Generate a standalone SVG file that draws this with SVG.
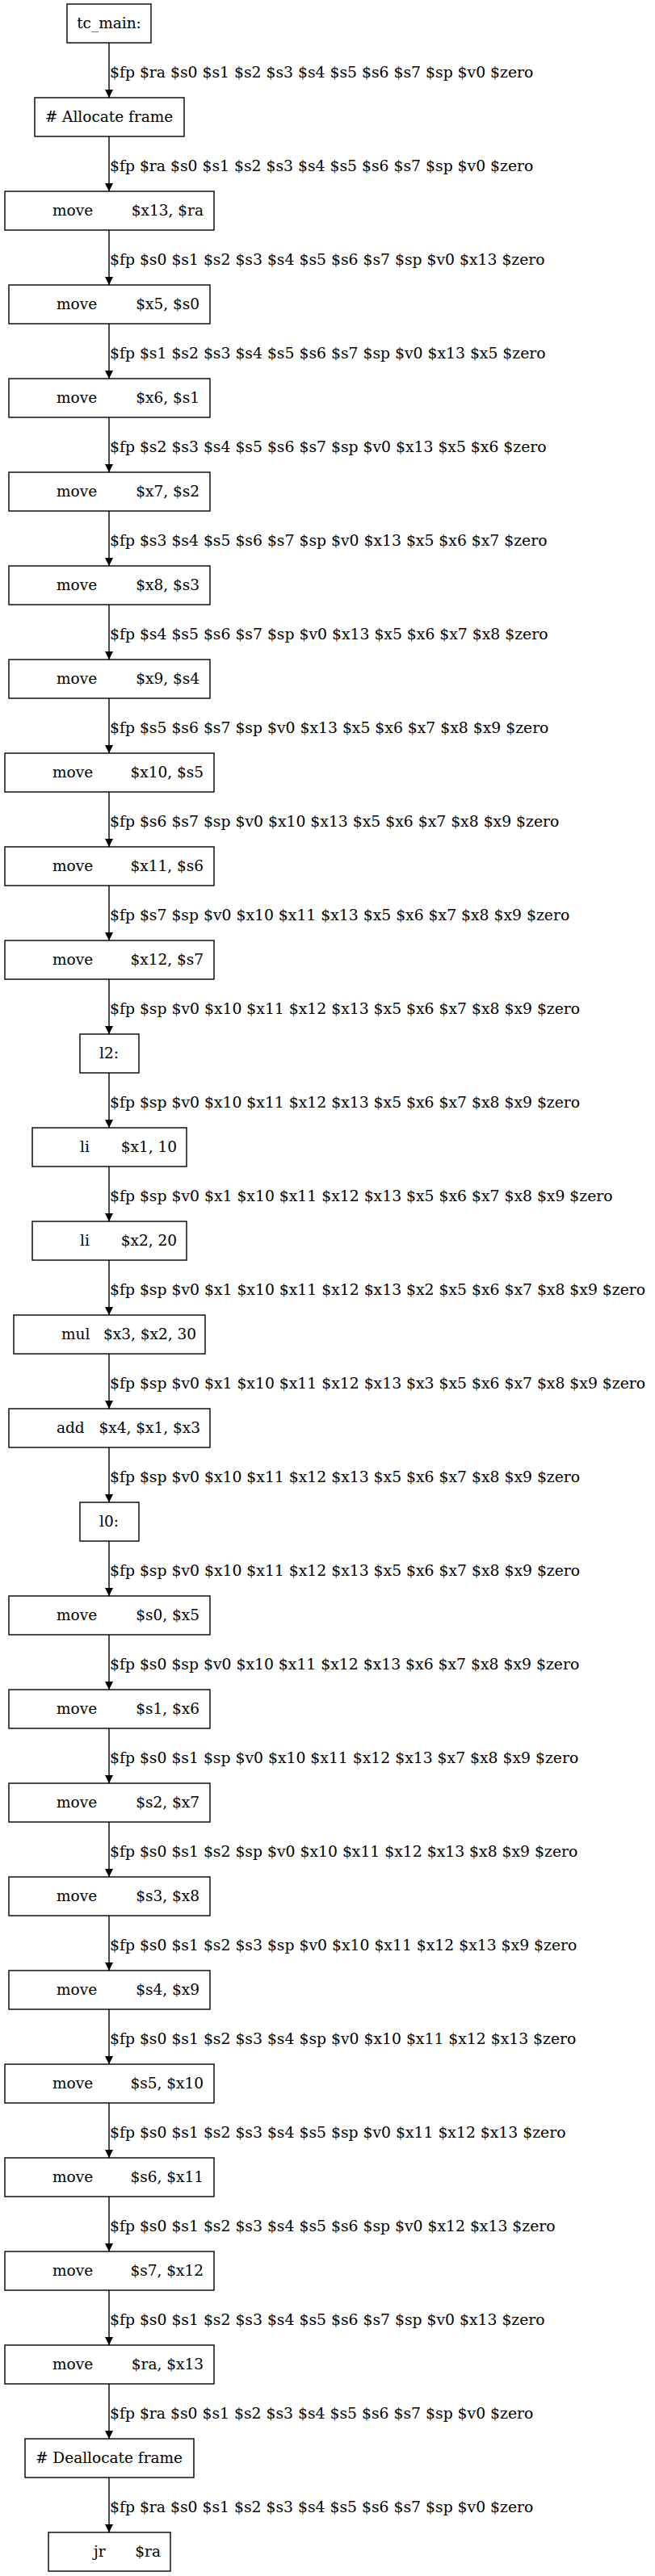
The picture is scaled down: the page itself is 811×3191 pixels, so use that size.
<svg xmlns="http://www.w3.org/2000/svg" width="811" height="3191" viewBox="0 0 811 3191">
<style>
rect{fill:#fff;stroke:#000;stroke-width:1.4}
text{font-family:"DejaVu Serif","Liberation Serif",serif;font-size:18.5px;fill:#000}
.l{font-size:18.8px}
.c{text-anchor:middle}.e{text-anchor:end}
line{stroke:#000;stroke-width:1.4}
</style>
<defs><marker id="a" markerWidth="10" markerHeight="12" refX="10" refY="6" orient="auto" markerUnits="userSpaceOnUse"><path d="M0,1 L10,6 L0,11 Z" fill="#000"/></marker></defs>
<rect width="811" height="3191" style="fill:#fff;stroke:none"/>
<g id="edges">
<line x1="135" y1="53" x2="135" y2="121" marker-end="url(#a)"/><text class="l" x="136" y="96">$fp $ra $s0 $s1 $s2 $s3 $s4 $s5 $s6 $s7 $sp $v0 $zero</text>
<line x1="135" y1="169" x2="135" y2="237" marker-end="url(#a)"/><text class="l" x="136" y="212">$fp $ra $s0 $s1 $s2 $s3 $s4 $s5 $s6 $s7 $sp $v0 $zero</text>
<line x1="135" y1="285" x2="135" y2="353" marker-end="url(#a)"/><text class="l" x="136" y="328">$fp $s0 $s1 $s2 $s3 $s4 $s5 $s6 $s7 $sp $v0 $x13 $zero</text>
<line x1="135" y1="401" x2="135" y2="469" marker-end="url(#a)"/><text class="l" x="136" y="444">$fp $s1 $s2 $s3 $s4 $s5 $s6 $s7 $sp $v0 $x13 $x5 $zero</text>
<line x1="135" y1="517" x2="135" y2="585" marker-end="url(#a)"/><text class="l" x="136" y="560">$fp $s2 $s3 $s4 $s5 $s6 $s7 $sp $v0 $x13 $x5 $x6 $zero</text>
<line x1="135" y1="633" x2="135" y2="701" marker-end="url(#a)"/><text class="l" x="136" y="676">$fp $s3 $s4 $s5 $s6 $s7 $sp $v0 $x13 $x5 $x6 $x7 $zero</text>
<line x1="135" y1="749" x2="135" y2="817" marker-end="url(#a)"/><text class="l" x="136" y="792">$fp $s4 $s5 $s6 $s7 $sp $v0 $x13 $x5 $x6 $x7 $x8 $zero</text>
<line x1="135" y1="865" x2="135" y2="933" marker-end="url(#a)"/><text class="l" x="136" y="908">$fp $s5 $s6 $s7 $sp $v0 $x13 $x5 $x6 $x7 $x8 $x9 $zero</text>
<line x1="135" y1="981" x2="135" y2="1049" marker-end="url(#a)"/><text class="l" x="136" y="1024">$fp $s6 $s7 $sp $v0 $x10 $x13 $x5 $x6 $x7 $x8 $x9 $zero</text>
<line x1="135" y1="1097" x2="135" y2="1165" marker-end="url(#a)"/><text class="l" x="136" y="1140">$fp $s7 $sp $v0 $x10 $x11 $x13 $x5 $x6 $x7 $x8 $x9 $zero</text>
<line x1="135" y1="1213" x2="135" y2="1281" marker-end="url(#a)"/><text class="l" x="136" y="1256">$fp $sp $v0 $x10 $x11 $x12 $x13 $x5 $x6 $x7 $x8 $x9 $zero</text>
<line x1="135" y1="1329" x2="135" y2="1397" marker-end="url(#a)"/><text class="l" x="136" y="1372">$fp $sp $v0 $x10 $x11 $x12 $x13 $x5 $x6 $x7 $x8 $x9 $zero</text>
<line x1="135" y1="1445" x2="135" y2="1513" marker-end="url(#a)"/><text class="l" x="136" y="1488">$fp $sp $v0 $x1 $x10 $x11 $x12 $x13 $x5 $x6 $x7 $x8 $x9 $zero</text>
<line x1="135" y1="1561" x2="135" y2="1629" marker-end="url(#a)"/><text class="l" x="136" y="1604">$fp $sp $v0 $x1 $x10 $x11 $x12 $x13 $x2 $x5 $x6 $x7 $x8 $x9 $zero</text>
<line x1="135" y1="1677" x2="135" y2="1745" marker-end="url(#a)"/><text class="l" x="136" y="1720">$fp $sp $v0 $x1 $x10 $x11 $x12 $x13 $x3 $x5 $x6 $x7 $x8 $x9 $zero</text>
<line x1="135" y1="1793" x2="135" y2="1861" marker-end="url(#a)"/><text class="l" x="136" y="1836">$fp $sp $v0 $x10 $x11 $x12 $x13 $x5 $x6 $x7 $x8 $x9 $zero</text>
<line x1="135" y1="1909" x2="135" y2="1977" marker-end="url(#a)"/><text class="l" x="136" y="1952">$fp $sp $v0 $x10 $x11 $x12 $x13 $x5 $x6 $x7 $x8 $x9 $zero</text>
<line x1="135" y1="2025" x2="135" y2="2093" marker-end="url(#a)"/><text class="l" x="136" y="2068">$fp $s0 $sp $v0 $x10 $x11 $x12 $x13 $x6 $x7 $x8 $x9 $zero</text>
<line x1="135" y1="2141" x2="135" y2="2209" marker-end="url(#a)"/><text class="l" x="136" y="2184">$fp $s0 $s1 $sp $v0 $x10 $x11 $x12 $x13 $x7 $x8 $x9 $zero</text>
<line x1="135" y1="2257" x2="135" y2="2325" marker-end="url(#a)"/><text class="l" x="136" y="2300">$fp $s0 $s1 $s2 $sp $v0 $x10 $x11 $x12 $x13 $x8 $x9 $zero</text>
<line x1="135" y1="2373" x2="135" y2="2441" marker-end="url(#a)"/><text class="l" x="136" y="2416">$fp $s0 $s1 $s2 $s3 $sp $v0 $x10 $x11 $x12 $x13 $x9 $zero</text>
<line x1="135" y1="2489" x2="135" y2="2557" marker-end="url(#a)"/><text class="l" x="136" y="2532">$fp $s0 $s1 $s2 $s3 $s4 $sp $v0 $x10 $x11 $x12 $x13 $zero</text>
<line x1="135" y1="2605" x2="135" y2="2673" marker-end="url(#a)"/><text class="l" x="136" y="2648">$fp $s0 $s1 $s2 $s3 $s4 $s5 $sp $v0 $x11 $x12 $x13 $zero</text>
<line x1="135" y1="2721" x2="135" y2="2789" marker-end="url(#a)"/><text class="l" x="136" y="2764">$fp $s0 $s1 $s2 $s3 $s4 $s5 $s6 $sp $v0 $x12 $x13 $zero</text>
<line x1="135" y1="2837" x2="135" y2="2905" marker-end="url(#a)"/><text class="l" x="136" y="2880">$fp $s0 $s1 $s2 $s3 $s4 $s5 $s6 $s7 $sp $v0 $x13 $zero</text>
<line x1="135" y1="2953" x2="135" y2="3021" marker-end="url(#a)"/><text class="l" x="136" y="2996">$fp $ra $s0 $s1 $s2 $s3 $s4 $s5 $s6 $s7 $sp $v0 $zero</text>
<line x1="135" y1="3069" x2="135" y2="3137" marker-end="url(#a)"/><text class="l" x="136" y="3112">$fp $ra $s0 $s1 $s2 $s3 $s4 $s5 $s6 $s7 $sp $v0 $zero</text>
</g>
<g id="n0"><rect x="83" y="5" width="104" height="48"/><text class="c" x="135" y="35">tc_main:</text></g>
<g id="n1"><rect x="43" y="121" width="185" height="48"/><text class="c" x="135" y="151"># Allocate frame</text></g>
<g id="n2"><rect x="6" y="237" width="259" height="48"/><text x="65" y="267">move</text><text class="e" x="252" y="267">$x13, $ra</text></g>
<g id="n3"><rect x="11" y="353" width="249" height="48"/><text x="70" y="383">move</text><text class="e" x="247" y="383">$x5, $s0</text></g>
<g id="n4"><rect x="11" y="469" width="249" height="48"/><text x="70" y="499">move</text><text class="e" x="247" y="499">$x6, $s1</text></g>
<g id="n5"><rect x="11" y="585" width="249" height="48"/><text x="70" y="615">move</text><text class="e" x="247" y="615">$x7, $s2</text></g>
<g id="n6"><rect x="11" y="701" width="249" height="48"/><text x="70" y="731">move</text><text class="e" x="247" y="731">$x8, $s3</text></g>
<g id="n7"><rect x="11" y="817" width="249" height="48"/><text x="70" y="847">move</text><text class="e" x="247" y="847">$x9, $s4</text></g>
<g id="n8"><rect x="6" y="933" width="259" height="48"/><text x="65" y="963">move</text><text class="e" x="252" y="963">$x10, $s5</text></g>
<g id="n9"><rect x="6" y="1049" width="259" height="48"/><text x="65" y="1079">move</text><text class="e" x="252" y="1079">$x11, $s6</text></g>
<g id="n10"><rect x="6" y="1165" width="259" height="48"/><text x="65" y="1195">move</text><text class="e" x="252" y="1195">$x12, $s7</text></g>
<g id="n11"><rect x="99" y="1281" width="73" height="48"/><text class="c" x="135" y="1311">l2:</text></g>
<g id="n12"><rect x="40" y="1397" width="191" height="48"/><text x="99" y="1427">li</text><text class="e" x="219" y="1427">$x1, 10</text></g>
<g id="n13"><rect x="40" y="1513" width="191" height="48"/><text x="99" y="1543">li</text><text class="e" x="219" y="1543">$x2, 20</text></g>
<g id="n14"><rect x="17" y="1629" width="237" height="48"/><text x="76" y="1659">mul</text><text class="e" x="243" y="1659">$x3, $x2, 30</text></g>
<g id="n15"><rect x="11" y="1745" width="249" height="48"/><text x="70" y="1775">add</text><text class="e" x="248" y="1775">$x4, $x1, $x3</text></g>
<g id="n16"><rect x="99" y="1861" width="73" height="48"/><text class="c" x="135" y="1891">l0:</text></g>
<g id="n17"><rect x="11" y="1977" width="249" height="48"/><text x="70" y="2007">move</text><text class="e" x="247" y="2007">$s0, $x5</text></g>
<g id="n18"><rect x="11" y="2093" width="249" height="48"/><text x="70" y="2123">move</text><text class="e" x="247" y="2123">$s1, $x6</text></g>
<g id="n19"><rect x="11" y="2209" width="249" height="48"/><text x="70" y="2239">move</text><text class="e" x="247" y="2239">$s2, $x7</text></g>
<g id="n20"><rect x="11" y="2325" width="249" height="48"/><text x="70" y="2355">move</text><text class="e" x="247" y="2355">$s3, $x8</text></g>
<g id="n21"><rect x="11" y="2441" width="249" height="48"/><text x="70" y="2471">move</text><text class="e" x="247" y="2471">$s4, $x9</text></g>
<g id="n22"><rect x="6" y="2557" width="259" height="48"/><text x="65" y="2587">move</text><text class="e" x="252" y="2587">$s5, $x10</text></g>
<g id="n23"><rect x="6" y="2673" width="259" height="48"/><text x="65" y="2703">move</text><text class="e" x="252" y="2703">$s6, $x11</text></g>
<g id="n24"><rect x="6" y="2789" width="259" height="48"/><text x="65" y="2819">move</text><text class="e" x="252" y="2819">$s7, $x12</text></g>
<g id="n25"><rect x="6" y="2905" width="259" height="48"/><text x="65" y="2935">move</text><text class="e" x="252" y="2935">$ra, $x13</text></g>
<g id="n26"><rect x="31" y="3021" width="209" height="48"/><text class="c" x="135" y="3051"># Deallocate frame</text></g>
<g id="n27"><rect x="60" y="3137" width="151" height="48"/><text x="116" y="3167">jr</text><text class="e" x="199" y="3167">$ra</text></g>
</svg>
